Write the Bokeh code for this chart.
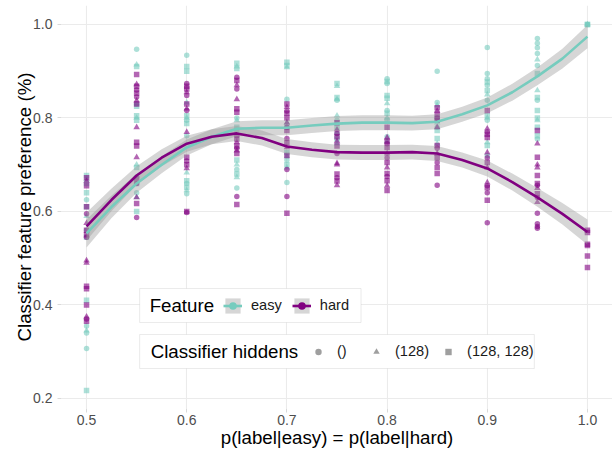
import numpy as np
from bokeh.plotting import figure
from bokeh.layouts import row
from bokeh.models import (ColumnDataSource, Legend, LegendItem, Range1d, Spacer,
                          FixedTicker, NumeralTickFormatter, BoxAnnotation, Label)
from bokeh.embed import file_html
from bokeh.resources import INLINE

# ---------------- data ----------------
x_levels = [0.5, 0.55, 0.6, 0.65, 0.7, 0.75, 0.8, 0.85, 0.9, 0.95, 1.0]

easy_circle = [
    [0.625, 0.56, 0.355, 0.34, 0.307],
    [0.947, 0.83, 0.673, 0.64],
    [0.934, 0.795, 0.762, 0.66, 0.638],
    [0.80, 0.773, 0.69, 0.65],
    [0.84, 0.71, 0.662],
    [0.838, 0.795, 0.767],
    [0.884, 0.874, 0.816, 0.76],
    [0.90, 0.833, 0.78],
    [0.951, 0.895, 0.884, 0.87, 0.838, 0.795, 0.72],
    [0.97, 0.96, 0.95, 0.938, 0.912, 0.838, 0.755],
    [1.0],
]
easy_triangle = [
    [0.67, 0.59, 0.345],
    [0.914, 0.80, 0.70, 0.63],
    [0.833, 0.80, 0.683, 0.645],
    [0.91, 0.795, 0.70, 0.673],
    [0.908, 0.79, 0.718, 0.694],
    [0.868, 0.84, 0.805, 0.745],
    [0.831, 0.80, 0.75],
    [0.827, 0.79, 0.745],
    [0.85, 0.80, 0.748],
    [0.925, 0.859, 0.795],
    [1.0],
]
easy_square = [
    [0.677, 0.66, 0.64, 0.61, 0.545, 0.41, 0.217],
    [0.91, 0.825, 0.805, 0.795, 0.694, 0.66, 0.60],
    [0.91, 0.90, 0.805, 0.788, 0.666, 0.652],
    [0.917, 0.906, 0.78, 0.71, 0.68],
    [0.919, 0.912, 0.78, 0.726, 0.70],
    [0.874, 0.844, 0.78, 0.755],
    [0.878, 0.848, 0.842, 0.81, 0.795],
    [0.80, 0.773, 0.756],
    [0.877, 0.859, 0.805, 0.741],
    [0.895, 0.844, 0.816, 0.80, 0.78, 0.762],
    [1.0, 1.0],
]
hard_circle = [
    [0.595, 0.545, 0.37],
    [0.86, 0.845, 0.66, 0.587],
    [0.874, 0.848, 0.816, 0.708, 0.598],
    [0.887, 0.862, 0.762, 0.735, 0.632],
    [0.815, 0.78, 0.756, 0.69, 0.632],
    [0.767, 0.724, 0.672],
    [0.745, 0.715, 0.675],
    [0.80, 0.735, 0.705, 0.656],
    [0.77, 0.715, 0.655, 0.64, 0.576],
    [0.656, 0.63, 0.596, 0.574, 0.568, 0.564],
    [],
]
hard_triangle = [
    [0.665, 0.575, 0.495, 0.49, 0.375],
    [0.872, 0.837, 0.78, 0.716, 0.63],
    [0.855, 0.82, 0.77, 0.692],
    [0.87, 0.84, 0.748, 0.73],
    [0.823, 0.79, 0.737],
    [0.775, 0.75, 0.703, 0.70, 0.656],
    [0.758, 0.724, 0.694, 0.655],
    [0.815, 0.78, 0.724],
    [0.777, 0.726, 0.694, 0.662],
    [0.745, 0.70, 0.694, 0.65, 0.62],
    [],
]
hard_square = [
    [0.672, 0.655, 0.61, 0.56, 0.55, 0.44, 0.435, 0.40, 0.365],
    [0.893, 0.868, 0.853, 0.83, 0.748, 0.74, 0.67, 0.617],
    [0.868, 0.862, 0.83, 0.716, 0.70, 0.60],
    [0.88, 0.82, 0.812, 0.755, 0.74, 0.724, 0.615],
    [0.83, 0.81, 0.80, 0.773, 0.747, 0.72, 0.596],
    [0.79, 0.76, 0.74, 0.68, 0.665],
    [0.78, 0.75, 0.737, 0.705, 0.681, 0.666, 0.645],
    [0.822, 0.808, 0.795, 0.741, 0.715, 0.694, 0.681],
    [0.816, 0.765, 0.758, 0.705, 0.651, 0.624],
    [0.773, 0.716, 0.677, 0.66, 0.638],
    [0.56, 0.555, 0.53, 0.527, 0.505, 0.48],
]

# smoothed fits (loess)
smooth_x = [0.5, 0.525, 0.55, 0.575, 0.6, 0.625, 0.65, 0.675, 0.7, 0.725, 0.75,
            0.775, 0.8, 0.825, 0.85, 0.875, 0.9, 0.925, 0.95, 0.975, 1.0]
easy_fit = [0.553, 0.61, 0.66, 0.70, 0.737, 0.76, 0.777, 0.779, 0.779, 0.784, 0.788,
            0.79, 0.79, 0.789, 0.792, 0.808, 0.827, 0.855, 0.889, 0.927, 0.974]
hard_fit = [0.568, 0.625, 0.677, 0.715, 0.745, 0.760, 0.767, 0.757, 0.739, 0.732, 0.727,
            0.726, 0.726, 0.727, 0.724, 0.71, 0.692, 0.663, 0.630, 0.595, 0.556]
easy_se = [0.030, 0.024, 0.020, 0.018, 0.017, 0.016, 0.016, 0.016, 0.016, 0.016, 0.016,
           0.016, 0.016, 0.016, 0.016, 0.016, 0.017, 0.018, 0.019, 0.021, 0.025]
hard_se = [0.030, 0.024, 0.020, 0.018, 0.017, 0.016, 0.016, 0.016, 0.016, 0.016, 0.016,
           0.016, 0.016, 0.016, 0.016, 0.016, 0.017, 0.018, 0.020, 0.023, 0.027]

x_ticks = [0.5, 0.6, 0.7, 0.8, 0.9, 1.0]
y_ticks = [0.2, 0.4, 0.6, 0.8, 1.0]

features = ["easy", "hard"]
shape_labels = ["()", "(128)", "(128, 128)"]

# ---------------- styling / layout ----------------
EASY = "#76ccbe"
HARD = "#800080"
FONT = "Liberation Sans"
PT_ALPHA = 0.6
TICK_COLOR = "#4d4d4d"

PAD = 11                         # blank strip left of the figure
W, H = 612, 450
FL, FT, FB = 62, 5, 408          # frame left / top / bottom (page pixels)
X0, X1 = 0.475, 1.025
Y0, Y1 = 0.1786, 1.0406
XS = (W - FL) / (X1 - X0)
YS = (FB - FT) / (Y1 - Y0)


def dx(px):
    return X0 + (px - FL) / XS


def dy(py):
    return Y1 - (py - FT) / YS


def flatten(nested):
    xs, ys = [], []
    for xv, vals in zip(x_levels, nested):
        for v in vals:
            xs.append(xv)
            ys.append(v)
    return dict(x=xs, y=ys)


p = figure(width=W - PAD, height=H, output_backend="svg", toolbar_location=None,
           x_range=Range1d(X0, X1), y_range=Range1d(Y0, Y1),
           min_border_left=0, min_border_right=0, min_border_top=FT,
           min_border_bottom=H - FB)
p.outline_line_color = None
p.background_fill_color = "white"

# points
point_sets = [
    (easy_circle, EASY, "circle", 5.5), (easy_triangle, EASY, "triangle", 6.5),
    (easy_square, EASY, "square", 5.5),
    (hard_circle, HARD, "circle", 5.5), (hard_triangle, HARD, "triangle", 6.5),
    (hard_square, HARD, "square", 5.5),
]
for nested, col, mk, sz in point_sets:
    p.scatter("x", "y", source=ColumnDataSource(flatten(nested)), marker=mk,
              size=sz, fill_color=col, line_color=None, fill_alpha=PT_ALPHA)

# smooth bands and lines
sx = np.array(smooth_x)
bands, lines = {}, {}
for name, fit, se in [("easy", easy_fit, easy_se), ("hard", hard_fit, hard_se)]:
    f = np.array(fit)
    s = np.array(se)
    bands[name] = p.varea(x=sx, y1=f - s, y2=f + s, fill_color="#999999",
                          fill_alpha=0.4)
for name, fit, col in [("easy", easy_fit, EASY), ("hard", hard_fit, HARD)]:
    lines[name] = p.line(sx, np.array(fit), line_color=col, line_width=2.6)


# key-only renderers for the legends (a single NaN row: never drawn on the plot)
def key_source():
    return ColumnDataSource(dict(x=np.array([np.nan]), y=np.array([np.nan])))


dot_e = p.scatter("x", "y", source=key_source(), marker="circle",
                  size=4, fill_color=EASY, line_color=None)
dot_h = p.scatter("x", "y", source=key_source(), marker="circle",
                  size=4, fill_color=HARD, line_color=None)
shape_rs = []
for mk, sz in [("circle", 4.5), ("triangle", 5.5), ("square", 4.5)]:
    shape_rs.append(p.scatter("x", "y", source=key_source(), marker=mk,
                              size=sz, fill_color="#7f7f7f", line_color=None,
                              fill_alpha=0.75))

# axes
for ax, ticks in [(p.xaxis, x_ticks), (p.yaxis, y_ticks)]:
    ax.ticker = FixedTicker(ticks=ticks)
    ax.formatter = NumeralTickFormatter(format="0.0")
    ax.axis_line_color = None
    ax.major_tick_line_color = "#dadada"
    ax.major_tick_out = 4
    ax.major_tick_in = 0
    ax.minor_tick_line_color = None
    ax.major_label_text_font = FONT
    ax.major_label_text_font_size = "14px"
    ax.major_label_text_color = TICK_COLOR
    ax.axis_label_text_font = FONT
    ax.axis_label_text_font_size = "18.7px"
    ax.axis_label_text_font_style = "normal"
    ax.axis_label_text_color = "black"
p.xaxis.axis_label = "p(label|easy) = p(label|hard)"
p.yaxis.axis_label = "Classifier feature preference (%)"
p.xaxis.major_label_standoff = 2
p.xaxis.axis_label_standoff = -1
p.yaxis.major_label_standoff = 5
p.yaxis.axis_label_standoff = -5

p.xgrid.grid_line_color = "#ebebeb"
p.ygrid.grid_line_color = "#ebebeb"
p.xgrid.grid_line_width = 1.1
p.ygrid.grid_line_width = 1.1


def legend_frame(left, right, top, bottom, title, title_px):
    box = BoxAnnotation(left=dx(left), right=dx(right), top=dy(top), bottom=dy(bottom),
                        fill_color="white", fill_alpha=1.0,
                        line_color="#bdbdbd", line_width=1, level="annotation")
    p.add_layout(box)
    lab = Label(x=dx(title_px), y=dy((top + bottom) / 2), text=title,
                text_font=FONT, text_font_size="18.7px", text_color="black",
                text_baseline="middle", text_align="left")
    p.add_layout(lab)


def style_items(leg):
    leg.orientation = "horizontal"
    leg.border_line_color = None
    leg.background_fill_alpha = 0.0
    leg.label_text_font = FONT
    leg.label_text_font_size = "14.6px"
    leg.label_text_color = "#1a1a1a"
    leg.margin = 0
    leg.padding = 0
    leg.label_height = 19


# Feature legend
legend_frame(140, 361, 288, 322, "Feature", 150)
leg1 = Legend(items=[
    LegendItem(label=features[0], renderers=[bands["easy"], lines["easy"], dot_e]),
    LegendItem(label=features[1], renderers=[bands["hard"], lines["hard"], dot_h]),
], location=(224 - FL, FB - (305 + 9.5)))
style_items(leg1)
leg1.glyph_width = 19
leg1.glyph_height = 19
leg1.label_standoff = 9
leg1.spacing = 10
p.add_layout(leg1)

# Classifier hiddens legend
legend_frame(140, 534, 334, 368, "Classifier hiddens", 151)
leg2 = Legend(items=[
    LegendItem(label=shape_labels[i], renderers=[shape_rs[i]]) for i in range(3)
], location=(311 - FL, FB - (351 + 9.5)))
style_items(leg2)
leg2.glyph_width = 16
leg2.glyph_height = 19
leg2.label_standoff = 11
leg2.spacing = 11
p.add_layout(leg2)

page = row(Spacer(width=PAD, height=H), p)
open("out.html", "w").write(file_html(page, INLINE))
